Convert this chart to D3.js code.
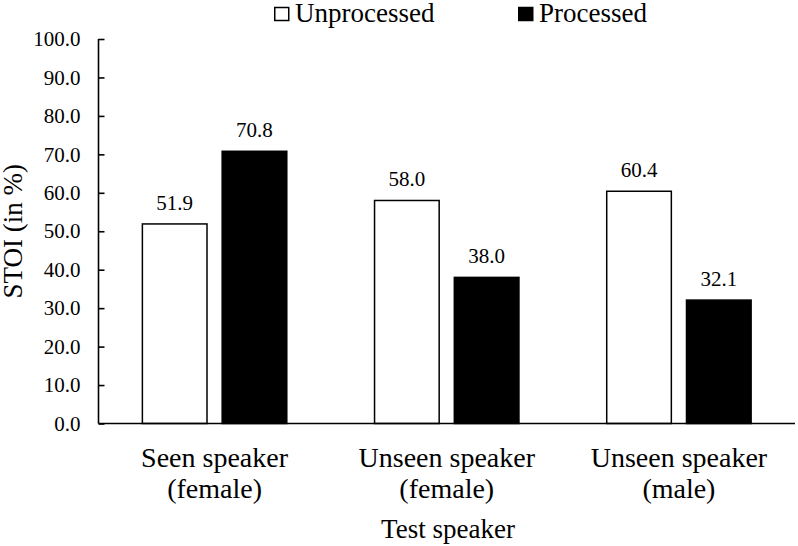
<!DOCTYPE html>
<html>
<head>
<meta charset="utf-8">
<script src="https://cdn.jsdelivr.net/npm/d3@7"></script>
<style>
  body { margin: 0; background: #fff; }
</style>
</head>
<body>
<div id="wrapper"></div>
<script>
const categories = [
  ["Seen speaker", "(female)"],
  ["Unseen speaker", "(female)"],
  ["Unseen speaker", "(male)"],
];
const seriesNames = ["Unprocessed", "Processed"];
const unprocessed = [51.9, 58.0, 60.4];
const processed = [70.8, 38.0, 32.1];
const yTicks = [0, 10, 20, 30, 40, 50, 60, 70, 80, 90, 100];

const FONT = "Liberation Serif";

function drawBars() {
  const dimensions = {
    width: 798,
    height: 546,
    margin: { top: 39, bottom: 122.5, left: 98.5, right: 3 },
  };
  dimensions.boundedWidth =
    dimensions.width - dimensions.margin.left - dimensions.margin.right;
  dimensions.boundedHeight =
    dimensions.height - dimensions.margin.top - dimensions.margin.bottom;

  const wrapper = d3
    .select("#wrapper")
    .append("svg")
    .attr("width", dimensions.width)
    .attr("height", dimensions.height)
    .attr("font-family", FONT);

  const bounds = wrapper
    .append("g")
    .attr("transform", `translate(${dimensions.margin.left},${dimensions.margin.top})`);

  // scales
  const xScale = d3
    .scaleBand()
    .domain(d3.range(categories.length))
    .range([0, dimensions.boundedWidth]);

  const innerScale = d3
    .scaleBand()
    .domain(seriesNames)
    .range([0, xScale.bandwidth()])
    .paddingInner(0.19)
    .paddingOuter(0.55);

  const yScale = d3
    .scaleLinear()
    .domain([0, 100])
    .range([dimensions.boundedHeight, 0]);

  const fills = { Unprocessed: "#fff", Processed: "#000" };

  const rows = [];
  categories.forEach((c, i) => {
    rows.push({ i, s: "Unprocessed", v: unprocessed[i] });
    rows.push({ i, s: "Processed", v: processed[i] });
  });

  bounds
    .selectAll(".bar")
    .data(rows)
    .join("rect")
    .attr("class", "bar")
    .attr("x", (d) => xScale(d.i) + innerScale(d.s))
    .attr("y", (d) => yScale(d.v))
    .attr("width", innerScale.bandwidth())
    .attr("height", (d) => yScale(0) - yScale(d.v))
    .attr("fill", (d) => fills[d.s])
    .attr("stroke", "#000")
    .attr("stroke-width", 1.5);

  bounds
    .selectAll(".val")
    .data(rows)
    .join("text")
    .attr("class", "val")
    .attr("x", (d) => xScale(d.i) + innerScale(d.s) + innerScale.bandwidth() / 2)
    .attr("y", (d) => yScale(d.v) - 14)
    .attr("text-anchor", "middle")
    .attr("font-family", FONT)
    .attr("font-size", 21)
    .text((d) => d.v.toFixed(1));

  // y axis
  const yAxis = bounds
    .append("g")
    .call(
      d3.axisLeft(yScale)
        .tickValues(yTicks)
        .tickSize(-6)
        .tickPadding(18)
        .tickFormat((d) => d.toFixed(1))
    )
    .attr("font-family", FONT)
    .attr("font-size", 21);
  yAxis.select(".domain").attr("stroke-width", 1.6).attr("d", `M0,0V${dimensions.boundedHeight}`);
  yAxis.selectAll(".tick line").attr("stroke-width", 1.6);
  yAxis.selectAll(".tick text").attr("fill", "#000");

  // baseline
  bounds
    .append("line")
    .attr("x1", 0)
    .attr("x2", dimensions.boundedWidth)
    .attr("y1", yScale(0))
    .attr("y2", yScale(0))
    .attr("stroke", "#000")
    .attr("stroke-width", 1.6);

  // category labels
  const catLabels = bounds
    .selectAll(".cat")
    .data(categories)
    .join("text")
    .attr("class", "cat")
    .attr("text-anchor", "middle")
    .attr("font-family", FONT)
    .attr("font-size", 28)
    .attr("transform", (d, i) =>
      `translate(${xScale(i) + xScale.bandwidth() / 2},${dimensions.boundedHeight + 43.5})`);
  catLabels
    .selectAll("tspan")
    .data((d) => d)
    .join("tspan")
    .attr("x", 0)
    .attr("dy", (d, j) => (j == 0 ? 0 : 31))
    .text((d) => d);

  // axis titles
  wrapper
    .append("text")
    .attr("x", 448)
    .attr("y", 538)
    .attr("text-anchor", "middle")
    .attr("font-family", FONT)
    .attr("font-size", 27)
    .text("Test speaker");

  wrapper
    .append("text")
    .attr("transform", `translate(22,${dimensions.margin.top + dimensions.boundedHeight / 2}) rotate(-90)`)
    .attr("text-anchor", "middle")
    .attr("font-family", FONT)
    .attr("font-size", 27)
    .text("STOI (in %)");

  // legend
  const legend = wrapper.append("g").attr("transform", "translate(274,0)");
  const items = legend
    .selectAll("g")
    .data(seriesNames)
    .join("g")
    .attr("transform", (d, i) => `translate(${i == 0 ? 0 : 244},0)`);
  items
    .append("rect")
    .attr("x", 0.75)
    .attr("y", 7.5)
    .attr("width", 14)
    .attr("height", 13)
    .attr("fill", (d) => fills[d])
    .attr("stroke", "#000")
    .attr("stroke-width", 1.5);
  items
    .append("text")
    .attr("x", 21)
    .attr("y", 22)
    .attr("font-family", FONT)
    .attr("font-size", 27)
    .text((d) => d);
}

drawBars();
</script>
</body>
</html>
